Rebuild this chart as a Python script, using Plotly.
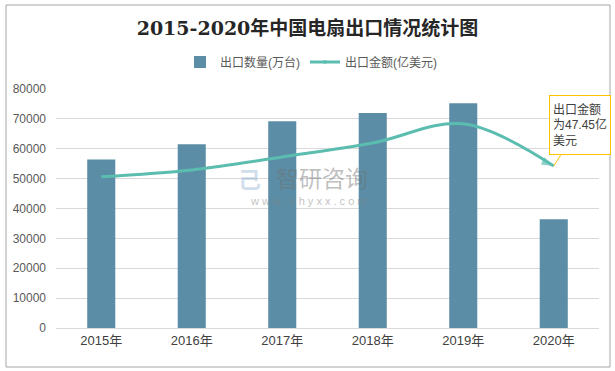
import plotly.graph_objects as go

years = ["2015年", "2016年", "2017年", "2018年", "2019年", "2020年"]
qty = [56400, 61500, 69200, 72000, 75200, 36400]          # 出口数量(万台)
amount = [44.3, 46.3, 50.1, 54.2, 59.8, 47.45]             # 出口金额(亿美元)
y_ticks = [0, 10000, 20000, 30000, 40000, 50000, 60000, 70000, 80000]
y_tick_text = [str(v) for v in y_ticks]

W, H = 615, 371
L, R, T, B = 56, 16, 89, 43
pw, ph = W - L - R, H - T - B

def px(x):
    return (x - L) / pw

def py(y):
    return (H - B - y) / ph

fig = go.Figure()
fig.add_trace(go.Bar(
    x=years, y=qty, name="出口数量(万台)",
    marker=dict(color="#5B8EA6", line=dict(width=0)),
))
fig.add_trace(go.Scatter(
    x=years, y=amount, name="出口金额(亿美元)", yaxis="y2",
    mode="lines+markers",
    line=dict(color="#5BBDB0", width=3, shape="spline", smoothing=1.0),
    marker=dict(color="#5BBDB0", size=[11, 0, 0, 0, 0, 13],
                symbol=["circle", "circle", "circle", "circle", "circle", "arrow"],
                angleref="previous", line=dict(width=0)),
))

fig.update_layout(
    width=W, height=H, autosize=False,
    margin=dict(l=L, r=R, t=T, b=B),
    paper_bgcolor="white", plot_bgcolor="white",
    font=dict(family="Liberation Sans, Noto Sans CJK SC", color="#595959", size=12),
    title=dict(text="<b>2015-2020年中国电扇出口情况统计图</b>",
               x=0.5, xanchor="center", y=1 - 28 / H, yanchor="middle",
               font=dict(family="DejaVu Serif, Noto Sans CJK SC", size=19, color="#262626")),
    bargap=0.69,
    showlegend=True,
    legend=dict(orientation="h", x=px(311), xanchor="center", y=1 + 27 / ph, yanchor="middle",
                font=dict(size=12, color="#595959"), itemwidth=30, bgcolor="rgba(0,0,0,0)"),
    xaxis=dict(range=[-0.5, 5.5], showgrid=False, showline=True, linecolor="#D9D9D9",
               linewidth=1, ticks="", tickfont=dict(size=13, color="#404040")),
    yaxis=dict(range=[0, 80000], tickvals=y_ticks, ticktext=y_tick_text, showgrid=True,
               gridcolor="#D9D9D9", gridwidth=1, zeroline=False, showline=False, ticks="",
               tickfont=dict(size=12, color="#595959"), ticklabelstandoff=9),
    yaxis2=dict(range=[0, 70], overlaying="y", side="right", visible=False, showgrid=False),
    shapes=[dict(type="rect", xref="paper", yref="paper",
                 x0=px(6), x1=px(610), y0=py(367), y1=py(5),
                 line=dict(color="#A6A6A6", width=1), fillcolor="rgba(0,0,0,0)", layer="above")],
    annotations=[
        dict(x=years[5], y=amount[5], xref="x", yref="y2",
             text="出口金额<br>为47.45亿<br>美元", align="left", valign="middle",
             height=52, showarrow=True,
             ax=26, ay=-41, arrowhead=0, arrowwidth=1, arrowcolor="#FFC000", standoff=0,
             bordercolor="#FFC000", borderwidth=1, borderpad=3, bgcolor="white",
             font=dict(size=12, color="#404040")),
        dict(x=px(322), y=py(177), xref="paper", yref="paper", showarrow=False,
             text="智研咨询", font=dict(size=23, color="rgba(110,110,110,0.45)",
                                    family="Noto Sans CJK SC")),
        dict(x=px(308), y=py(201), xref="paper", yref="paper", showarrow=False,
             text="w w w . c h y x x . c o m", font=dict(size=11, color="rgba(130,130,130,0.5)")),
        dict(x=px(249), y=py(178), xref="paper", yref="paper", showarrow=False,
             text="<b>己</b>", font=dict(size=23, color="rgba(120,160,200,0.35)",
                                        family="Noto Sans CJK SC")),
    ],
)

fig.write_html("out.html", config={"displayModeBar": False},
               post_script="document.body.style.margin='0';document.body.style.overflow='hidden';")
